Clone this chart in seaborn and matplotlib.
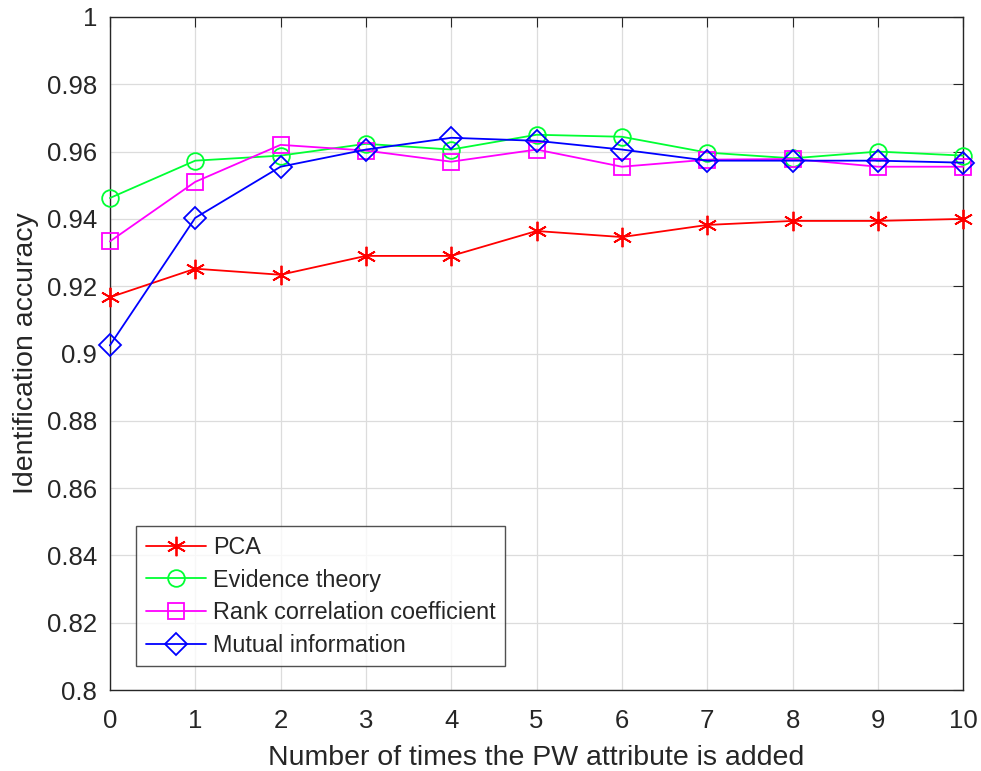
import numpy as np
import pandas as pd
import matplotlib
matplotlib.use("Agg")
import matplotlib.pyplot as plt
import seaborn as sns

sns.set_style("white")
plt.rcParams['font.family'] = ['Liberation Sans', 'DejaVu Sans']

# data
times_added = list(range(11))
pca = [0.9167, 0.9252, 0.9234, 0.9290, 0.9290, 0.9364, 0.9346, 0.9382, 0.9394, 0.9394, 0.9400]
evidence = [0.9462, 0.9573, 0.9588, 0.9623, 0.9606, 0.9650, 0.9644, 0.9597, 0.9580, 0.9600, 0.9588]
rank_corr = [0.9333, 0.9510, 0.9620, 0.9603, 0.9570, 0.9606, 0.9555, 0.9576, 0.9578, 0.9555, 0.9555]
mutual = [0.9024, 0.9403, 0.9555, 0.9606, 0.9641, 0.9632, 0.9606, 0.9573, 0.9573, 0.9573, 0.9567]

series = [
    ("PCA", pca, "#ff0000", (6, 2, 0), 14),
    ("Evidence theory", evidence, "#00ff33", "o", 12),
    ("Rank correlation coefficient", rank_corr, "#ff00ff", "s", 11),
    ("Mutual information", mutual, "#0000ff", "D", 11),
]

fig = plt.figure(figsize=(9.81, 7.71), dpi=100)
ax = fig.add_axes([0.112, 0.105, 0.870, 0.873])

for name, vals, color, marker, ms in series:
    df = pd.DataFrame({"x": times_added, "y": vals})
    sns.lineplot(data=df, x="x", y="y", ax=ax, color=color, marker=marker,
                 markersize=ms, markerfacecolor="none", markeredgecolor=color,
                 markeredgewidth=1.3, linewidth=1.3, label=name, clip_on=False,
                 zorder=3)

ax.set_xlim(0, 10)
ax.set_ylim(0.8, 1.0)
ax.set_xticks(range(11))
ax.set_yticks(np.arange(0.8, 1.001, 0.02))
ax.set_yticklabels(["0.8", "0.82", "0.84", "0.86", "0.88", "0.9",
                    "0.92", "0.94", "0.96", "0.98", "1"])
ax.grid(True, color="#dcdcdc", linewidth=0.9)
ax.set_axisbelow(True)
ax.tick_params(direction="in", length=7, labelsize=18.5, colors="#262626",
               top=True, right=True, pad=9)
ax.tick_params(axis="x", pad=14)
for s in ax.spines.values():
    s.set_color("#262626")
    s.set_linewidth(1.0)

ax.set_xlabel("Number of times the PW attribute is added", fontsize=20.5,
              color="#262626", labelpad=8)
ax.set_ylabel("Identification accuracy", fontsize=20.5, color="#262626", labelpad=6)

leg = ax.legend(loc="lower left", bbox_to_anchor=(0.031, 0.035), fontsize=16.8,
                frameon=True, fancybox=False, edgecolor="#262626",
                handlelength=2.6, handletextpad=0.3, borderpad=0.4,
                labelspacing=0.42, borderaxespad=0)
leg.get_frame().set_linewidth(1.0)

fig.savefig("out.png", dpi=100)
